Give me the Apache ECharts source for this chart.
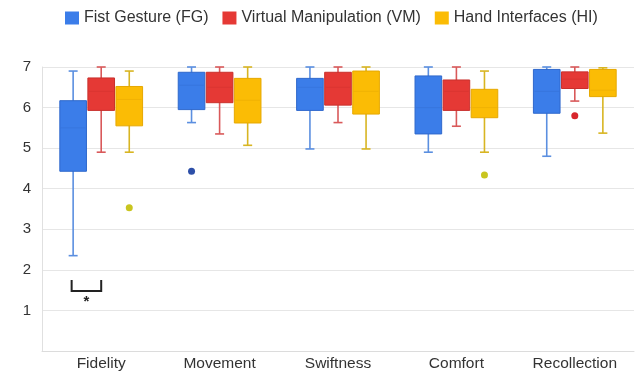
<!DOCTYPE html>
<html>
<head>
<meta charset="utf-8">
<script src="https://cdn.jsdelivr.net/npm/echarts@6/dist/echarts.min.js"></script>
<style>html,body{margin:0;padding:0;background:#fff}#c{width:642px;height:375px}</style>
</head>
<body>
<div id="c"></div>
<script>
// ---- data ----
const categories = ['Fidelity', 'Movement', 'Swiftness', 'Comfort', 'Recollection'];
const seriesNames = ['Fist Gesture (FG)', 'Virtual Manipulation (VM)', 'Hand Interfaces (HI)'];
// [low, q1, median, q3, high]
const fgBox = [[2.35, 4.43, 5.5, 6.17, 6.9], [5.63, 5.95, 6.55, 6.87, 7.0], [4.98, 5.93, 6.5, 6.72, 7.0], [4.9, 5.35, 6.0, 6.78, 7.0], [4.8, 5.86, 6.4, 6.94, 7.0]];
const vmBox = [[4.9, 5.93, 6.4, 6.73, 7.0], [5.35, 6.12, 6.5, 6.87, 7.0], [5.63, 6.06, 6.5, 6.87, 7.0], [5.54, 5.93, 6.4, 6.68, 7.0], [6.16, 6.47, 6.7, 6.88, 7.0]];
const hiBox = [[4.9, 5.55, 6.2, 6.52, 6.9], [5.07, 5.62, 6.18, 6.72, 7.0], [4.98, 5.84, 6.4, 6.9, 7.0], [4.9, 5.75, 6.0, 6.45, 6.9], [5.37, 6.27, 6.43, 6.94, 6.98]];
// [categoryIndex, value]
const fgOutliers = [[1, 4.43]];
const vmOutliers = [[4, 5.8]];
const hiOutliers = [[0, 3.53], [3, 4.34]];
const yTicks = [0, 1, 2, 3, 4, 5, 6, 7];
// significance bracket: between FG and VM of Fidelity
const bracket = { category: 0, top: 1.75, bottom: 1.48, star: 1.2, label: '*' };

// ---- styles ----
const FONT = 'Liberation Sans, Arial, sans-serif';
const styles = [
  { fill: '#3b7de9', stroke: '#2f68cc', whisker: '#5b8fe0', median: '#2f66c6', outlier: '#2d4fa8', off: -0.237 },
  { fill: '#e53935', stroke: '#c9302c', whisker: '#d9595a', median: '#c22e2a', outlier: '#d8262c', off: 0 },
  { fill: '#fbbc05', stroke: '#e6a800', whisker: '#d8b522', median: '#d99a00', outlier: '#c9c51f', off: 0.237 }
];

function boxRender(st) {
  return function (params, api) {
    const x = api.value(0);
    const band = api.size([1, 0])[0];
    const low = api.coord([x, api.value(1)]);
    const q1 = api.coord([x, api.value(2)]);
    const med = api.coord([x, api.value(3)]);
    const q3 = api.coord([x, api.value(4)]);
    const high = api.coord([x, api.value(5)]);
    const cx = low[0] + st.off * band;
    const w = band * 0.225;
    const cap = 4.5;
    return {
      type: 'group',
      children: [
        { type: 'line', shape: { x1: cx, y1: high[1], x2: cx, y2: low[1] }, style: { stroke: st.whisker, lineWidth: 1.6 } },
        { type: 'line', shape: { x1: cx - cap, y1: high[1], x2: cx + cap, y2: high[1] }, style: { stroke: st.whisker, lineWidth: 1.6 } },
        { type: 'line', shape: { x1: cx - cap, y1: low[1], x2: cx + cap, y2: low[1] }, style: { stroke: st.whisker, lineWidth: 1.6 } },
        { type: 'rect', shape: { x: cx - w / 2, y: q3[1], width: w, height: q1[1] - q3[1] }, style: { fill: st.fill, stroke: st.stroke, lineWidth: 1 } },
        { type: 'line', shape: { x1: cx - w / 2 + 1, y1: med[1], x2: cx + w / 2 - 1, y2: med[1] }, style: { stroke: st.median, lineWidth: 1, opacity: 0.3 } }
      ]
    };
  };
}
function outlierRender(st) {
  return function (params, api) {
    const x = api.value(0);
    const band = api.size([1, 0])[0];
    const p = api.coord([x, api.value(1)]);
    return { type: 'circle', shape: { cx: p[0] + st.off * band, cy: p[1], r: 3.5 }, style: { fill: st.outlier } };
  };
}

const boxes = [fgBox, vmBox, hiBox];
const outs = [fgOutliers, vmOutliers, hiOutliers];
const series = [];
boxes.forEach((b, k) => {
  series.push({
    name: seriesNames[k], type: 'custom', renderItem: boxRender(styles[k]),
    itemStyle: { color: styles[k].fill },
    encode: { x: 0, y: [1, 2, 3, 4, 5] },
    data: b.map((d, i) => [i].concat(d)), z: 2
  });
});
outs.forEach((o, k) => {
  series.push({
    name: seriesNames[k], type: 'custom', renderItem: outlierRender(styles[k]),
    itemStyle: { color: styles[k].fill },
    encode: { x: 0, y: 1 },
    data: o, z: 3
  });
});

const chart = echarts.init(document.getElementById('c'), null, { renderer: 'canvas' });
chart.setOption({
  backgroundColor: '#fff',
  animation: false,
  textStyle: { fontFamily: FONT },
  legend: {
    top: 5, left: 60,
    itemWidth: 14, itemHeight: 13, itemGap: 14,
    textStyle: { fontSize: 16, color: '#333', fontFamily: FONT },
    data: seriesNames.map((n, k) => ({ name: n, icon: 'rect', itemStyle: { color: styles[k].fill } }))
  },
  grid: { left: 42, right: 8, top: 67, bottom: 24 },
  xAxis: {
    type: 'category', data: categories,
    axisTick: { show: false },
    axisLine: { lineStyle: { color: '#dcdcdc' } },
    axisLabel: { fontSize: 15.5, color: '#333', margin: 5, fontFamily: FONT },
    splitLine: { show: false }
  },
  yAxis: {
    type: 'value', min: yTicks[0], max: yTicks[yTicks.length - 1], interval: 1,
    axisLine: { show: true, lineStyle: { color: '#e0e0e0' } },
    axisTick: { show: false },
    splitLine: { lineStyle: { color: '#e6e6e6' } },
    axisLabel: { fontSize: 15, color: '#333', margin: 11, formatter: v => (v === 0 ? '' : String(v)), fontFamily: FONT }
  },
  series: series
});

// significance bracket annotation, positioned through the axes
const band = chart.getModel().getComponent('xAxis', 0).axis.getBandWidth();
const pTop = chart.convertToPixel({ xAxisIndex: 0, yAxisIndex: 0 }, [bracket.category, bracket.top]);
const pBot = chart.convertToPixel({ xAxisIndex: 0, yAxisIndex: 0 }, [bracket.category, bracket.bottom]);
const pStar = chart.convertToPixel({ xAxisIndex: 0, yAxisIndex: 0 }, [bracket.category, bracket.star]);
const xl = pTop[0] + styles[0].off * band - 1.5;
const xr = pTop[0] + styles[1].off * band;
chart.setOption({
  graphic: [
    { type: 'polyline', shape: { points: [[xl, pTop[1]], [xl, pBot[1]], [xr, pBot[1]], [xr, pTop[1]]] }, style: { stroke: '#222', lineWidth: 2, fill: null } },
    { type: 'text', x: (xl + xr) / 2, y: pStar[1], style: { text: bracket.label, fontSize: 15, fontWeight: 'bold', fill: '#222', align: 'center', verticalAlign: 'middle', fontFamily: FONT } }
  ]
});
</script>
</body>
</html>
